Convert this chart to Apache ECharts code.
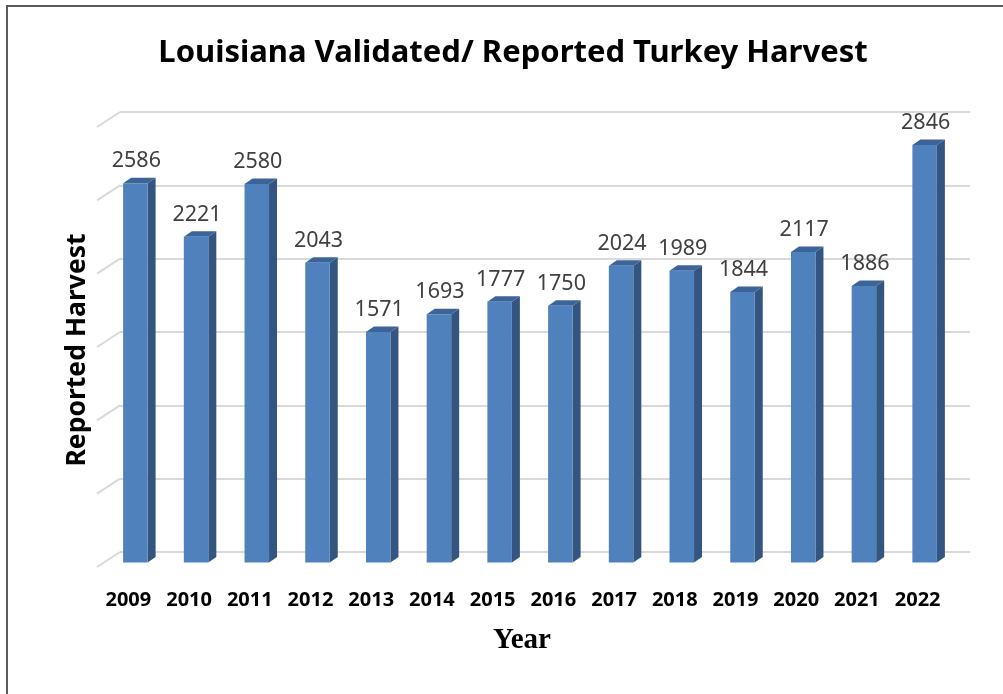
<!DOCTYPE html>
<html>
<head>
<meta charset="utf-8">
<style>
html,body{margin:0;padding:0;background:#fff;}
#chart{width:1003px;height:694px;}
</style>
<script src="https://cdn.jsdelivr.net/npm/echarts@6/dist/echarts.min.js"></script>
</head>
<body>
<div id="chart"></div>
<script>
// ---- data ----
const years = ['2009','2010','2011','2012','2013','2014','2015','2016','2017','2018','2019','2020','2021','2022'];
const harvest = [2586, 2221, 2580, 2043, 1571, 1693, 1777, 1750, 2024, 1989, 1844, 2117, 1886, 2846];
const gridTicks = [0, 500, 1000, 1500, 2000, 2500, 3000];
const titleText = 'Louisiana Validated/ Reported Turkey Harvest';
const yTitle = 'Reported Harvest';
const xTitle = 'Year';

// ---- style constants ----
const FRONT = '#4F81BD', SIDE = '#34557F', TOP = '#3D6498';
const DEPTH_X = 23, DEPTH_Y = 15;      // floor depth (back wall -> front)
const BAR_SHIFT_X = -15, BAR_SHIFT_Y = 10.5; // back wall -> bar front face
const BAR_W = 24.5, BAR_DX = 8, BAR_DY = -5.5;

const chart = echarts.init(document.getElementById('chart'), null, {renderer: 'canvas'});

chart.setOption({
  animation: false,
  backgroundColor: '#fff',
  grid: {left: 120, right: 33, top: 112, bottom: 142, containLabel: false},
  xAxis: {
    type: 'category',
    data: years,
    boundaryGap: true,
    axisLine: {show: false},
    axisTick: {show: false},
    axisLabel: {
      interval: 0,
      margin: 38,
      padding: [0, 44, 0, 0],
      color: '#000',
      fontSize: 20,
      fontWeight: 'bold',
      fontFamily: 'Noto Sans'
    }
  },
  yAxis: {
    type: 'value',
    min: 0, max: 3000, interval: 500,
    axisLine: {show: false},
    axisTick: {show: false},
    axisLabel: {show: false},
    splitLine: {show: true, lineStyle: {color: '#D9D9D9', width: 2}}
  },
  graphic: [
    {type: 'line', shape: {x1: 7, y1: 5, x2: 7, y2: 694}, style: {stroke: '#595959', lineWidth: 2}},
    {type: 'line', shape: {x1: 6, y1: 6, x2: 1003, y2: 6}, style: {stroke: '#595959', lineWidth: 2}},
    {type: 'text', x: 513, y: 53, style: {text: titleText, align: 'center', verticalAlign: 'middle',
      fontSize: 31, fontWeight: 'bold', fontFamily: 'Noto Sans', fill: '#000'}},
    {type: 'text', x: 77, y: 350, rotation: Math.PI / 2, style: {text: yTitle, align: 'center', verticalAlign: 'middle',
      fontSize: 26.5, fontWeight: 'bold', fontFamily: 'Noto Sans', fill: '#000'}},
    {type: 'text', x: 522, y: 641, style: {text: xTitle, align: 'center', verticalAlign: 'middle',
      fontSize: 29, fontWeight: 'bold', fontFamily: 'Liberation Serif', fill: '#000'}}
  ],
  series: [
    {
      type: 'custom',
      name: 'depth',
      silent: true,
      data: gridTicks.map(v => [0, v]),
      encode: {x: 0, y: 1},
      renderItem: function (params, api) {
        const y = api.coord([0, api.value(1)])[1];
        const x0 = params.coordSys.x;
        return {
          type: 'line',
          shape: {x1: x0 - DEPTH_X, y1: y + DEPTH_Y, x2: x0, y2: y},
          style: {stroke: '#D9D9D9', lineWidth: 2}
        };
      },
      z: 1
    },
    {
      type: 'custom',
      name: 'Reported Harvest',
      data: harvest.map((v, i) => [i, v]),
      encode: {x: 0, y: 1},
      renderItem: function (params, api) {
        const idx = api.value(0), v = api.value(1);
        const top = api.coord([idx, v]);
        const base = api.coord([idx, 0]);
        const cx = top[0] + BAR_SHIFT_X;
        const xl = cx - BAR_W / 2, xr = cx + BAR_W / 2;
        const yt = top[1] + BAR_SHIFT_Y, yb = base[1] + BAR_SHIFT_Y;
        return {
          type: 'group',
          children: [
            {type: 'polygon', shape: {points: [[xr, yt], [xr + BAR_DX, yt + BAR_DY], [xr + BAR_DX, yb + BAR_DY], [xr, yb]]},
              style: {fill: SIDE}},
            {type: 'polygon', shape: {points: [[xl, yt], [xl + BAR_DX, yt + BAR_DY], [xr + BAR_DX, yt + BAR_DY], [xr, yt]]},
              style: {fill: TOP}},
            {type: 'rect', shape: {x: xl, y: yt, width: BAR_W, height: yb - yt},
              style: {fill: FRONT}},
            {type: 'text', style: {text: String(v), x: cx + 1, y: yt - 22, align: 'center', verticalAlign: 'middle',
              fontSize: 21.5, fontFamily: 'Noto Sans', fill: '#404040'}}
          ]
        };
      },
      z: 2
    }
  ]
});
</script>
</body>
</html>
